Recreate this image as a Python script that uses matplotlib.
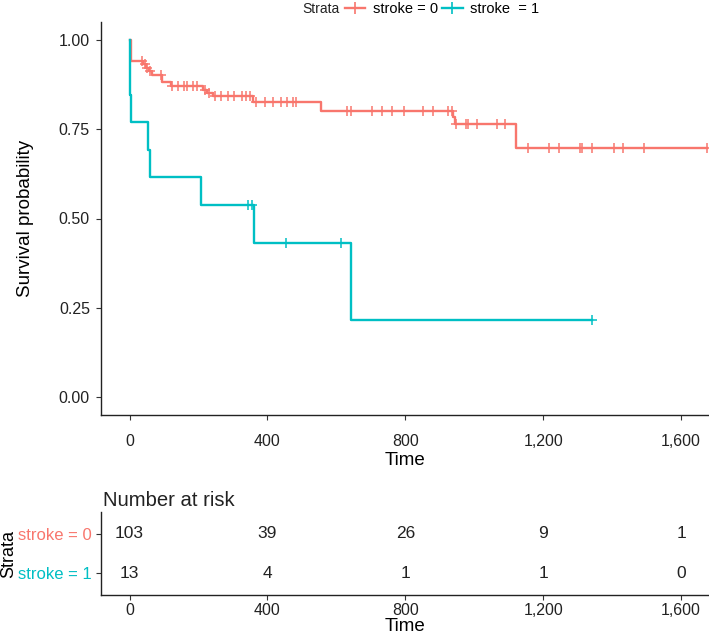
import numpy as np
import matplotlib
matplotlib.use("Agg")
import matplotlib.pyplot as plt
from matplotlib.lines import Line2D
from matplotlib.ticker import FuncFormatter

plt.rcParams['font.family'] = ['Liberation Sans', 'DejaVu Sans']

RED = '#F8766D'
TEAL = '#00BFC4'

# stroke = 0 : step times / survival levels / censor times
red_times = [0, 3, 40, 48, 56, 65, 93, 121, 213, 225, 242, 357, 554, 938, 944, 1122]
red_surv = [1.0, 0.942, 0.932, 0.922, 0.913, 0.903, 0.882, 0.870, 0.860, 0.850,
            0.844, 0.825, 0.802, 0.784, 0.765, 0.696]
red_censor = [36, 45, 52, 60, 90, 123, 140, 157, 168, 183, 197, 218, 230, 247, 264,
              287, 304, 326, 338, 349, 366, 394, 417, 439, 456, 473, 484, 631, 642,
              704, 733, 761, 795, 851, 879, 924, 935, 947, 975, 981, 1009, 1066, 1088,
              1156, 1218, 1246, 1308, 1311, 1342, 1404, 1432, 1492, 1675]

# stroke = 1
teal_times = [0, 2, 5, 55, 60, 206, 360, 642]
teal_surv = [1.0, 0.846, 0.769, 0.692, 0.615, 0.538, 0.431, 0.215]
teal_censor = [343, 355, 454, 614, 1342]

# number at risk
risk_times = [0, 400, 800, 1200, 1600]
risk0 = [103, 39, 26, 9, 1]
risk1 = [13, 4, 1, 1, 0]
strata = ['stroke = 0', 'stroke = 1']
legend_labels = ['stroke = 0', 'stroke  = 1']

W, H = 709, 635
fig = plt.figure(figsize=(W / 100, H / 100), dpi=100)

xlim = (-82.7, 1680.7)
ax = fig.add_axes([101 / W, (H - 415) / H, 608 / W, 393 / H])
rax = fig.add_axes([101 / W, 40 / H, 608 / W, 83 / H])


def surv_at(times, surv, t):
    idx = np.searchsorted(times, t, side='right') - 1
    return np.asarray(surv)[idx]


def draw_curve(times, surv, censor, color):
    end = max(censor[-1], times[-1])
    xs = list(times) + [end]
    ys = list(surv) + [surv[-1]]
    ax.step(xs, ys, where='post', color=color, lw=1.7, zorder=3)
    cy = surv_at(times, surv, censor)
    ax.plot(censor, cy, ls='none', marker='+', ms=7, mew=1.1, color=color, zorder=4)


draw_curve(red_times, red_surv, red_censor, RED)
draw_curve(teal_times, teal_surv, teal_censor, TEAL)

fmt = FuncFormatter(lambda v, p: f"{v:,.0f}")
for a in (ax, rax):
    a.set_xlim(*xlim)
    a.set_xticks(risk_times)
    a.xaxis.set_major_formatter(fmt)
    for s in ('top', 'right'):
        a.spines[s].set_visible(False)
    for s in ('left', 'bottom'):
        a.spines[s].set_linewidth(1.0)
        a.spines[s].set_color('#222222')
    a.tick_params(length=3.5, width=0.8, color='#333333', labelcolor='#222222')

ax.set_ylim(-0.05, 1.05)
ax.set_yticks([0, 0.25, 0.5, 0.75, 1.0])
ax.set_yticklabels(['0.00', '0.25', '0.50', '0.75', '1.00'])
ax.tick_params(axis='both', labelsize=11.5)
ax.tick_params(axis='x', pad=10.5)
ax.tick_params(axis='y', pad=4.5)
ax.set_xlabel('Time', fontsize=13.5, labelpad=2)
ax.set_ylabel('Survival probability', fontsize=13.5, labelpad=18)

# legend at top
handles = [Line2D([], [], color=RED, lw=1.7, marker='+', ms=8, mew=1.2),
           Line2D([], [], color=TEAL, lw=1.7, marker='+', ms=8, mew=1.2)]
fig.legend(handles, legend_labels, loc='center', bbox_to_anchor=(442 / W, 1 - 9 / H), ncol=2,
           frameon=False, fontsize=10.5, handlelength=1.4, handletextpad=0.5,
           columnspacing=0.3, borderpad=0)
fig.text(302 / W, 1 - 9 / H, 'Strata', fontsize=10, ha='left', va='center', color='#222222')

# risk table
rax.set_ylim(0.44, 2.56)
rax.set_yticks([2, 1])
rax.set_yticklabels(strata)
for lbl, c in zip(rax.get_yticklabels(), (RED, TEAL)):
    lbl.set_color(c)
rax.tick_params(axis='y', labelsize=12, pad=3)
rax.tick_params(axis='x', labelsize=11.5, pad=2)
for t, n0, n1 in zip(risk_times, risk0, risk1):
    rax.text(t, 2, str(n0), ha='center', va='center', fontsize=12.5, color='#222222')
    rax.text(t, 1, str(n1), ha='center', va='center', fontsize=12.5, color='#222222')
rax.set_xlabel('Time', fontsize=13.5, labelpad=0)
rax.set_ylabel('Strata', fontsize=13, labelpad=1)
fig.text(103 / W, 1 - 500 / H, 'Number at risk', fontsize=14.6, ha='left', va='center',
         color='#222222')

fig.savefig('out.png', dpi=100)
